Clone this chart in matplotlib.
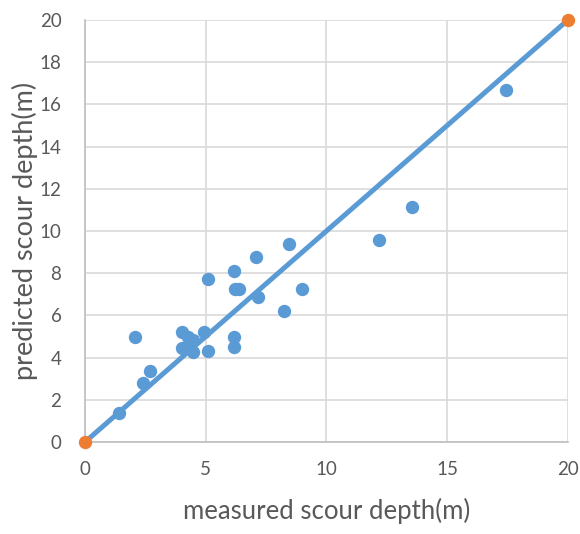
import matplotlib
matplotlib.use("Agg")
import matplotlib.pyplot as plt

# measured vs predicted scour depth (m)
measured = [1.42, 2.07, 2.42, 2.69, 4.0, 4.0, 4.28, 4.35, 4.49, 4.49, 4.93, 5.11,
            5.11, 6.17, 6.21, 6.38, 6.17, 6.17, 7.07, 7.18, 8.46, 8.24, 8.97,
            12.17, 13.55, 17.42]
predicted = [1.39, 4.99, 2.81, 3.38, 5.2, 4.44, 4.99, 4.52, 4.83, 4.28, 5.2, 4.31,
             7.72, 8.12, 7.25, 7.25, 4.99, 4.49, 8.78, 6.86, 9.37, 6.22, 7.25,
             9.57, 11.15, 16.68]
# 1:1 reference line
ref_x = [0, 20]
ref_y = [0, 20]

blue = "#5b9bd5"
orange = "#ed7d31"
grey_txt = "#595959"

plt.rcParams["font.family"] = ["Lato", "DejaVu Sans"]

fig = plt.figure(figsize=(5.8, 5.34), dpi=100)
ax = fig.add_axes([0.1466, 0.1723, 0.8324, 0.7902])

ax.plot(measured, predicted, "o", color=blue, markersize=8.6, zorder=3)
ax.plot(ref_x, ref_y, "-", color=blue, linewidth=3.6, zorder=3)
ax.plot(ref_x, ref_y, "o", color=orange, markersize=8.6, zorder=4, clip_on=False)

ax.set_xlim(0, 20)
ax.set_ylim(0, 20)
ax.set_xticks([0, 5, 10, 15, 20])
ax.set_yticks(range(0, 21, 2))
ax.grid(True, color="#d9d9d9", linewidth=1.2)
ax.set_axisbelow(True)
for s in ["top", "right"]:
    ax.spines[s].set_visible(False)
for s in ["left", "bottom"]:
    ax.spines[s].set_color("#bfbfbf")
    ax.spines[s].set_linewidth(1.2)
ax.tick_params(length=0, labelsize=13.5, labelcolor=grey_txt)
ax.tick_params(axis="y", pad=17)
ax.tick_params(axis="x", pad=14)

ax.set_xlabel("measured scour depth(m)", fontsize=18.5, color=grey_txt, labelpad=14)
ax.set_ylabel("predicted scour depth(m)", fontsize=19.5, color=grey_txt, labelpad=1)

fig.savefig("out.png", dpi=100)
